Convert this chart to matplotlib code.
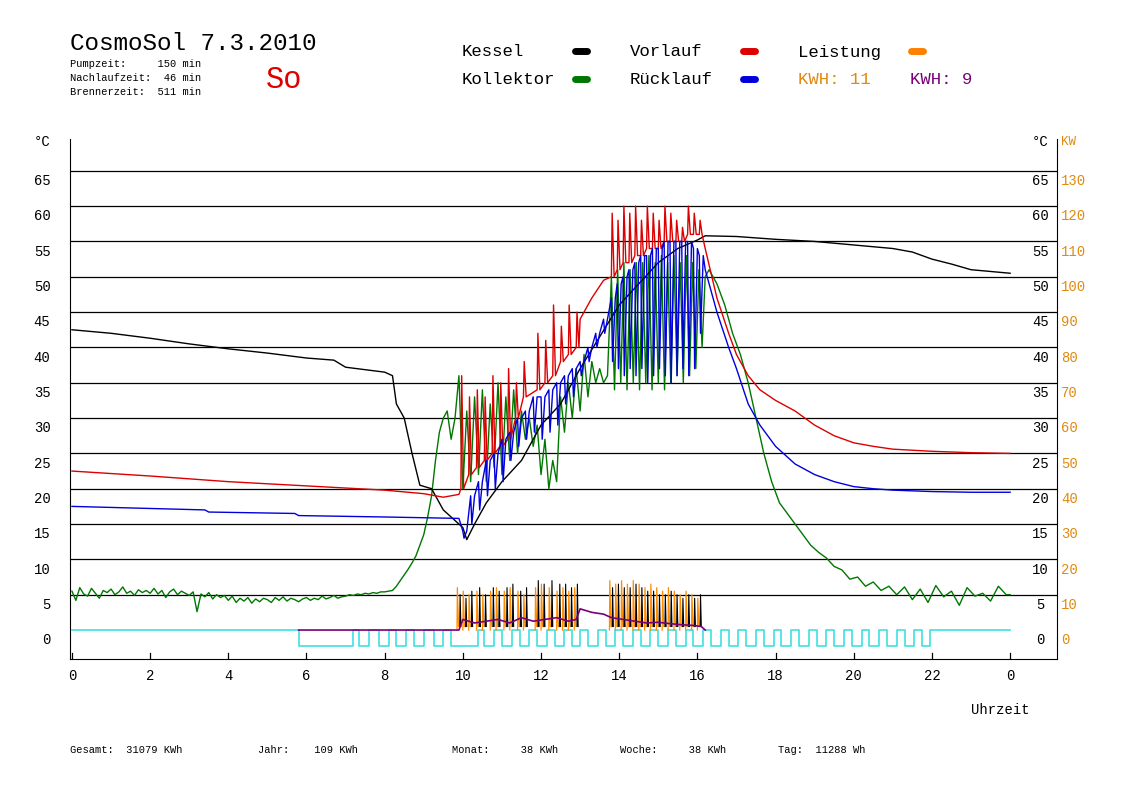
import numpy as np
import matplotlib
matplotlib.use('Agg')
import matplotlib.pyplot as plt
from matplotlib.lines import Line2D

FONT = 'Liberation Mono'
plt.rcParams['font.family'] = [FONT, 'DejaVu Sans Mono']

# ---------------- data ----------------
kessel_t = [0, 1, 2, 3, 4, 5, 6, 6.7, 7.0, 8.0, 8.2, 8.3, 8.5, 8.7, 8.9, 9.2, 9.5, 9.8, 10.0, 10.1, 10.3,
            10.6, 11.0, 11.5, 12.0, 12.5, 13.0, 13.5, 14.0, 14.5, 15.0, 15.5, 16.0, 16.2, 17, 18, 19, 20,
            21, 21.5, 22.0, 22.5, 23.0, 24.0]
kessel_v = [42.5, 42, 41.3, 40.5, 39.8, 39.2, 38.5, 38.2, 37.2, 36.5, 36.0, 32, 30, 25, 20.5, 20, 17,
            15.5, 14.5, 12.8, 15, 18, 21, 24, 29, 32, 37, 41.5, 46, 49, 52, 54, 55.2, 55.8, 55.7, 55.3,
            55, 54.5, 54, 53.5, 52.5, 51.8, 51, 50.5]

# Vorlauf: smooth parts + spikes (time, base, peak)
red_pre_t = [0, 2, 4, 6, 8, 9.0, 9.5, 9.9]
red_pre_v = [22.5, 21.8, 21.0, 20.4, 19.8, 19.3, 18.8, 19.2]
red_spk1_t = [9.95, 10.15, 10.35, 10.55, 10.75, 10.95, 11.15, 11.35, 11.55,
              11.9, 12.1, 12.3, 12.5, 12.7, 12.9]
red_spk1_lo = [20, 22, 23, 24, 25, 26, 27, 30, 33,
               34, 35, 36, 38, 39, 40]
red_spk1_hi = [36, 33, 34, 33, 36, 35, 37, 35, 38,
               42, 41, 46, 43, 46, 45]
red_mid_t = [13.0, 13.3, 13.6]
red_mid_v = [44, 47, 49.5]
red_spk2_t = [13.8, 13.95, 14.1, 14.25, 14.4, 14.55, 14.7, 14.85, 15.0, 15.15, 15.3, 15.45, 15.6, 15.75,
              15.9, 16.05]
red_spk2_lo = [50, 51, 52, 52, 53, 53, 54, 54, 54, 55, 55, 55, 55, 56, 56, 56]
red_spk2_hi = [59, 58, 60, 59, 60, 58, 60, 59, 58, 60, 59, 58, 57, 60, 59, 58]
red_post_t = [16.2, 16.5, 16.8, 17.0, 17.3, 17.6, 18.0, 18.5, 19.0, 19.5, 20, 20.5, 21, 22, 23, 24]
red_post_v = [54, 47, 42, 39, 36, 34, 32.5, 31, 29, 27.5, 26.5, 26, 25.6, 25.3, 25.1, 25]

# Ruecklauf: smooth + dips (time, base, dip)
blue_pre_t = [0, 2, 3.4, 3.5, 5.7, 5.8, 8, 9.9]
blue_pre_v = [17.5, 17.2, 17.0, 16.7, 16.5, 16.2, 16.0, 15.8]
blue_dip_t = [10.0, 10.2, 10.4, 10.6, 10.8, 11.0, 11.2, 11.4, 11.6, 11.8, 12.0, 12.2, 12.4, 12.6, 12.8,
              13.0, 13.2, 13.4, 13.6, 13.8, 13.95, 14.1, 14.25, 14.4, 14.55, 14.7, 14.85, 15.0, 15.15,
              15.3, 15.45, 15.6, 15.75, 15.9, 16.05]
blue_dip_hi = [14, 19, 21, 24, 25, 27, 28, 30, 31, 33, 33, 34, 35, 36, 37,
               38, 40, 42, 44, 47, 49, 50, 51, 52, 53, 53, 54, 54, 55, 55, 55, 55, 55, 54, 53]
blue_dip_lo = [13, 15, 17, 19, 20, 21, 24, 26, 27, 28, 27, 28, 29, 32, 33,
               36, 38, 40, 42, 38, 37, 36, 37, 36, 37, 35, 36, 37, 36, 35, 36, 37, 36, 37, 42]
blue_post_t = [16.2, 16.5, 16.8, 17.0, 17.3, 17.6, 18.0, 18.5, 19.0, 19.5, 20, 20.5, 21, 22, 23, 24]
blue_post_v = [51, 45, 40, 37, 32, 29, 26, 23.5, 22, 21, 20.3, 20, 19.8, 19.6, 19.5, 19.5]

# Kollektor (0.1 h steps up to 9.8 h)
green_pre_v = [5.5, 4.2, 6.0, 5.1, 4.8, 5.9, 5.2, 4.5, 5.6, 5.3,
               5.8, 5.0, 5.4, 6.1, 5.2, 5.5, 4.9, 5.7, 5.3, 5.6,
               5.2, 5.9, 5.1, 5.6, 4.6, 5.4, 5.8, 5.0, 5.5, 5.2,
               4.9, 5.4, 2.6, 5.1, 4.7, 5.3, 4.4, 5.0, 4.6, 4.9,
               4.2, 4.8, 3.9, 4.5, 4.1, 4.6, 3.8, 4.4, 4.0, 4.5,
               4.3, 3.9, 4.6, 4.2, 4.7, 4.1, 4.5, 4.3, 4.0, 4.4,
               4.6, 4.2, 4.5, 4.3, 4.8, 4.4, 4.6, 4.9, 4.5, 4.7,
               4.8, 5.0, 4.9, 5.1, 5.0, 5.2, 5.1, 5.3, 5.2, 5.4,
               5.4, 5.5, 5.6, 6.2, 7.0, 7.8, 8.6, 9.5, 10.5, 12.0,
               13.5, 16.0, 19.0, 24.0, 28.0, 30.0, 31.0, 27.0, 30.0]
green_osc_t = [9.9, 10.0, 10.1, 10.2, 10.3, 10.4, 10.5, 10.6, 10.7, 10.8, 10.9, 11.0, 11.1, 11.2, 11.3,
               11.4, 11.5, 11.6, 11.7, 11.8, 11.9, 12.0, 12.1, 12.2, 12.3, 12.4, 12.5, 12.6, 12.7, 12.8,
               12.9, 13.0, 13.1, 13.2, 13.3, 13.4, 13.5, 13.6, 13.7, 13.8, 13.88, 13.96, 14.04, 14.12,
               14.2, 14.28, 14.36, 14.44, 14.52, 14.6, 14.68, 14.76, 14.84, 14.92, 15.0, 15.08, 15.16,
               15.24, 15.32, 15.4, 15.48, 15.56, 15.64, 15.72, 15.8, 15.88, 15.96, 16.04, 16.12, 16.2]
green_osc_v = [36, 20, 31, 21, 33, 22, 34, 21, 32, 23, 35, 22, 33, 24, 34,
               25, 31, 27, 30, 26, 29, 22, 27, 20, 24, 21, 33, 28, 35, 30,
               37, 31, 39, 33, 38, 35, 37, 35, 36, 50, 34, 51, 35, 52, 34, 51, 35, 52, 34,
               52, 35, 53, 34, 52, 35, 53, 34, 52, 35, 53, 36, 52, 35, 53, 36, 52, 37, 51, 40, 50]
green_post_t = [16.3, 16.5, 16.7, 16.9, 17.1, 17.3, 17.5, 17.7, 17.9, 18.1, 18.3, 18.5, 18.7, 18.9,
                19.1, 19.3, 19.5, 19.7, 19.9, 20.1, 20.3, 20.5, 20.7, 20.9, 21.1, 21.3, 21.5, 21.7,
                21.9, 22.1, 22.3, 22.5, 22.7, 22.9, 23.1, 23.3, 23.5, 23.7, 23.9, 24.0]
green_post_v = [51, 49, 46, 42, 39, 35, 30, 25, 21, 18, 16.5, 15, 13.5, 12, 11, 10.2, 9, 8.5, 7.2,
                7.5, 6.2, 6.8, 5.6, 6.2, 5.0, 6.1, 4.3, 5.8, 3.9, 6.3, 4.7, 5.5, 3.5, 6.0, 4.8, 5.2,
                4.1, 6.2, 5.0, 5.0]

# Leistung (kW, right axis)
pw_t = [9.85, 10.0, 10.15, 10.35, 10.5, 10.7, 10.85, 11.05, 11.2, 11.4, 11.55, 11.85, 12.0, 12.2, 12.4,
        12.55, 12.7, 12.85, 13.75, 13.9, 14.05, 14.2, 14.35, 14.5, 14.65, 14.8, 14.95, 15.1, 15.25, 15.4,
        15.55, 15.7, 15.85, 16.0]
pw_orange = [12, 11, 10, 11, 10, 11, 12, 11, 12, 11, 10, 12, 13, 12, 11, 12, 11, 12,
             14, 13, 14, 13, 14, 13, 12, 13, 12, 11, 12, 11, 10, 11, 10, 9]
pw_black = [10, 9, 11, 12, 10, 12, 11, 12, 13, 11, 12, 14, 13, 14, 13, 13, 12, 13,
            12, 13, 12, 12, 13, 12, 11, 11, 10, 10, 11, 10, 9, 10, 9, 10]
purple_t = [5.8, 9.9, 10.0, 10.3, 10.6, 10.9, 11.2, 11.5, 11.8, 12.1, 12.4, 12.7, 12.9, 13.0, 13.3, 13.6,
            13.8, 14.1, 14.4, 14.7, 15.0, 15.3, 15.6, 15.9, 16.1, 16.2]
purple_v = [0, 0, 3, 2, 2.5, 3, 2, 3.5, 2.5, 3, 3.5, 2.5, 3, 6, 5, 4.5, 3.5, 3, 2.5, 2, 2.2, 1.8, 1.5, 1.3, 1.0, 0]

# Pumpe (cyan pulse train)
pump_start = [5.8, 7.35, 7.85, 8.3, 8.75, 9.25, 9.7, 10.55, 11.0, 11.45, 11.9, 12.35, 12.8, 13.2, 13.65,
              14.1, 14.55, 15.0, 15.45, 15.9, 16.35, 16.8, 17.25, 17.7, 18.15, 18.6, 19.05, 19.5, 19.95,
              20.4, 20.85, 21.3, 21.75]
pump_end = [7.2, 7.6, 8.1, 8.55, 9.0, 9.5, 10.4, 10.8, 11.25, 11.7, 12.15, 12.6, 13.0, 13.45, 13.9,
            14.35, 14.8, 15.25, 15.7, 16.15, 16.6, 17.05, 17.5, 17.95, 18.4, 18.85, 19.3, 19.75, 20.2,
            20.65, 21.1, 21.55, 21.95]

left_ticks = list(range(0, 70, 5))
right_kw = list(range(0, 140, 10))
hour_ticks = list(range(0, 25, 2))
hour_labels = ['0', '2', '4', '6', '8', '10', '12', '14', '16', '18', '20', '22', '0']


def spikes(t, lo, hi, w_up=0.02, w_dn=0.07):
    xs, ys = [], []
    for a, b, c in zip(t, lo, hi):
        xs += [a, a + w_up, a + w_dn]
        ys += [b, c, b]
    return xs, ys


# ---------------- figure ----------------
W, H = 1148, 812
fig = plt.figure(figsize=(W / 100, H / 100), dpi=100)
fig.patch.set_facecolor('white')
ax = fig.add_axes([70 / W, 1 - 660 / H, 987 / W, 520 / H])
ax.set_xlim(-0.05, 25.2)
ax.set_ylim(-4.1, 69.5)
ax.spines['top'].set_visible(False)
ax.set_xticks([])
ax.set_yticks([])

for v in range(5, 70, 5):
    ax.axhline(v, color='black', lw=0.9, zorder=1)

# pump pulses
px, py = [0], [0]
for a, b in zip(pump_start, pump_end):
    px += [a, a, b, b]
    py += [0, -2.2, -2.2, 0]
px.append(24)
py.append(0)
ax.plot(px, py, color='#40e0e0', lw=1.2, zorder=2)

ax.plot(kessel_t, kessel_v, color='black', lw=1, zorder=4)

s1x, s1y = spikes(red_spk1_t, red_spk1_lo, red_spk1_hi)
s2x, s2y = spikes(red_spk2_t, red_spk2_lo, red_spk2_hi)
ax.plot(red_pre_t + s1x + red_mid_t + s2x + red_post_t,
        red_pre_v + s1y + red_mid_v + s2y + red_post_v, color='#dd0000', lw=1, zorder=5)
bx, by = spikes(blue_dip_t, blue_dip_hi, blue_dip_lo, 0.03, 0.1)
ax.plot(blue_pre_t + bx + blue_post_t, blue_pre_v + by + blue_post_v, color='#0000dd', lw=1, zorder=6)

g_t = [i / 10 for i in range(len(green_pre_v))]
ax.plot(g_t + green_osc_t + green_post_t, green_pre_v + green_osc_v + green_post_v,
        color='#007700', lw=1, zorder=3)

for t, o, k in zip(pw_t, pw_orange, pw_black):
    ax.plot([t, t + 0.01, t + 0.04], [0, o / 2, 0.5], color='#ff8c00', lw=0.9, zorder=7)
    ax.plot([t + 0.07, t + 0.08, t + 0.1], [0.5, k / 2, 0.5], color='black', lw=0.8, zorder=7)
ax.plot(purple_t, [v / 2 for v in purple_v], color='#7a007a', lw=1.2, zorder=8)

# axes labels
for v, k in zip(left_ticks, right_kw):
    ax.text(-0.55, v - 1.3, str(v), ha='right', va='center', fontsize=10)
    ax.text(24.77, v - 1.3, str(v), ha='center', va='center', fontsize=10)
    ax.text(25.3, v - 1.3, str(k), ha='left', va='center', fontsize=10, color='#e08a10')
ax.text(-0.55, 69.2, '°C', ha='right', va='center', fontsize=10)
ax.text(24.77, 69.2, '°C', ha='center', va='center', fontsize=10)
ax.text(25.3, 69.2, 'KW', ha='left', va='center', fontsize=9, color='#e08a10')
for h, lab in zip(hour_ticks, hour_labels):
    ax.plot([h, h], [-4.1, -3.3], color='black', lw=0.9)
    ax.text(h, -6.3, lab, ha='center', va='center', fontsize=10)
ax.text(23.75, -11.2, 'Uhrzeit', ha='center', va='center', fontsize=10)

# header
fig.text(70 / W, 1 - 43 / H, 'CosmoSol 7.3.2010', fontsize=17.5, va='center')
for i, s in enumerate(['Pumpzeit:     150 min', 'Nachlaufzeit:  46 min', 'Brennerzeit:  511 min']):
    fig.text(70 / W, 1 - (64 + i * 14) / H, s, fontsize=7.5, va='center')
fig.text(266 / W, 1 - 80 / H, 'So', fontsize=22, color='#dd0000', va='center')

legend = [('Kessel', 462, 52, '#000000'), ('Kollektor', 462, 80, '#007700'),
          ('Vorlauf', 630, 52, '#dd0000'), ('Rücklauf', 630, 80, '#0000dd'),
          ('Leistung', 798, 52, '#ff8000')]
for lab, x, y, lc in legend:
    fig.text(x / W, 1 - y / H, lab, fontsize=12.5, va='center')
    fig.add_artist(Line2D([(x + 113) / W, (x + 125) / W], [1 - y / H] * 2, color=lc, lw=5,
                          solid_capstyle='round'))
fig.text(798 / W, 1 - 80 / H, 'KWH: 11', fontsize=12.5, va='center', color='#e08a10')
fig.text(910 / W, 1 - 80 / H, 'KWH: 9', fontsize=12.5, va='center', color='#7a007a')

footer = [('Gesamt:  31079 KWh', 70), ('Jahr:    109 KWh', 258), ('Monat:     38 KWh', 452),
          ('Woche:     38 KWh', 620), ('Tag:  11288 Wh', 778)]
for s, x in footer:
    fig.text(x / W, 1 - 750 / H, s, fontsize=7.5, va='center')

fig.savefig('out.png', dpi=100)
